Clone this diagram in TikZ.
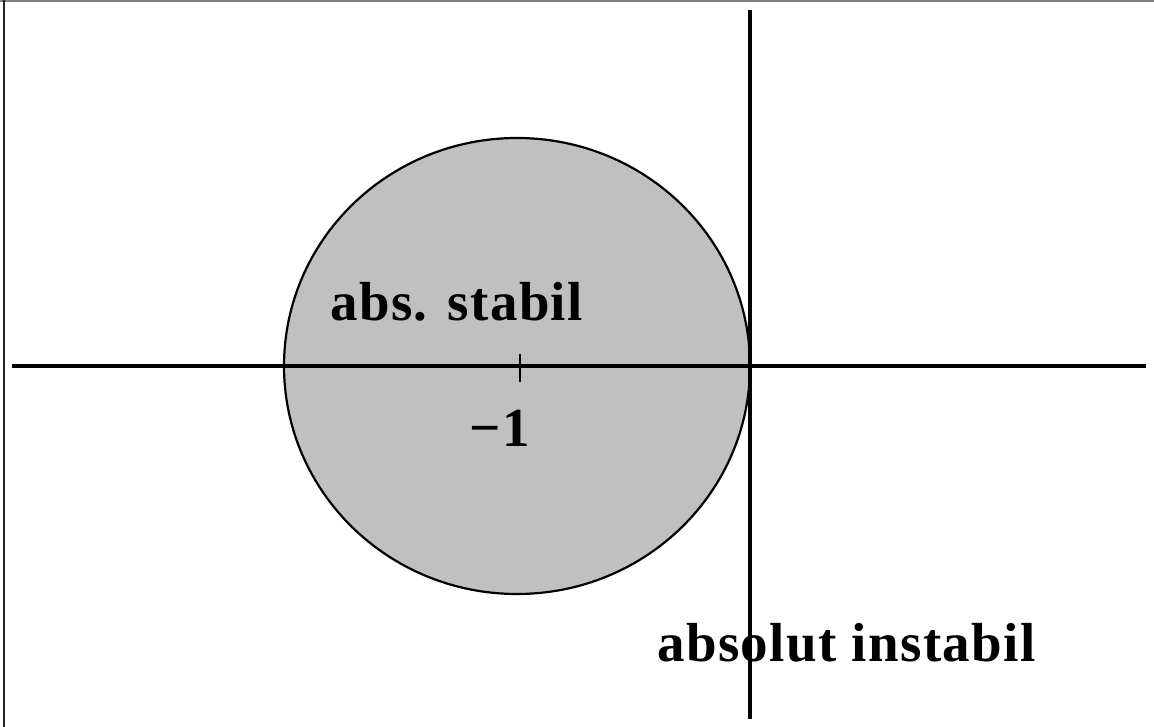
\documentclass[tikz,border=0pt]{standalone}
\usepackage{fontspec}
\setmainfont{Liberation Serif}
\begin{document}
\begin{tikzpicture}[x=1pt,y=-1pt,
  axis/.style={line width=3.5pt,black},
  lbl/.style={inner sep=0pt,font=\fontsize{55}{60}\selectfont\bfseries\addfontfeature{LetterSpace=2.5}},
  frameline/.style={line width=2pt}]
\useasboundingbox (0,0) rectangle (1154,727);
\fill[white] (0,0) rectangle (1154,727);
% window frame
\draw[frameline,gray] (0,1.5) -- (1154,1.5);
\draw[frameline,black!85] (3.5,0) -- (3.5,727);
% stability region
\draw[line width=2.2pt,fill={rgb,255:red,192;green,192;blue,192}] (517,366) ellipse [x radius=233, y radius=228];
% axes
\coordinate (xl) at (12,366);
\coordinate (xr) at (1146,366);
\coordinate (yt) at (750,10);
\coordinate (yb) at (750,719);
\draw[axis] (xl) -- (xr);
\draw[axis] (yt) -- (yb);
% tick at -1
\coordinate (t1) at (520,354);
\coordinate (t2) at (520,382);
\draw[line width=2.8pt] (t1) -- (t2);
% labels
\node[lbl,anchor=base west] (stab) at (330,320) {abs. stabil};
\node[lbl,anchor=base] (m1) at (500,446) {−1};
\node[lbl,anchor=base west] (instab) at (657,661) {absolut instabil};
\end{tikzpicture}
\end{document}
